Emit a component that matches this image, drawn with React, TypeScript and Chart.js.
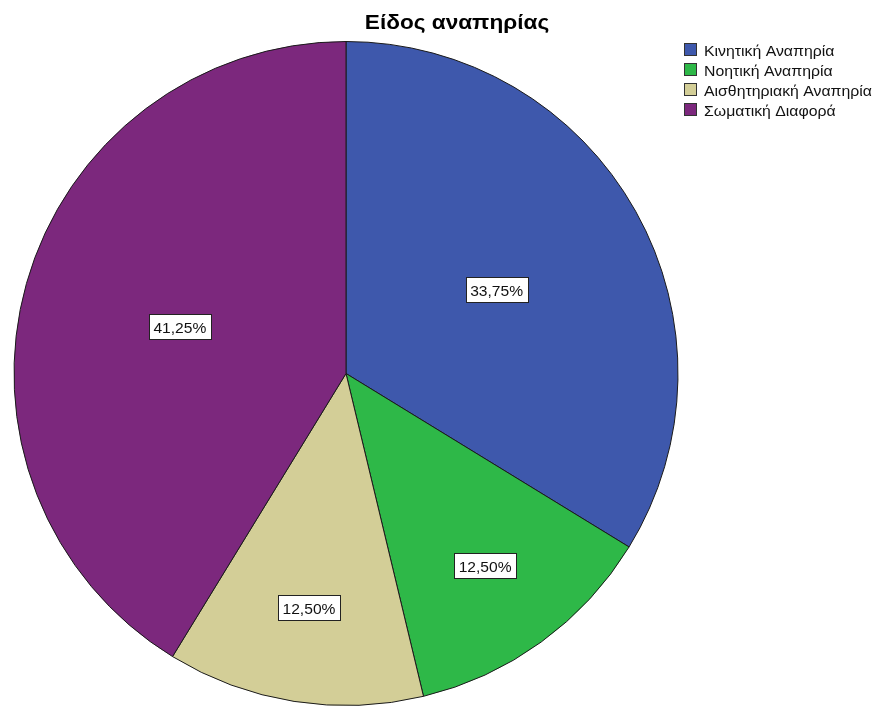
import React, { useEffect, useRef } from "react";
import { Chart, registerables } from "chart.js";

Chart.register(...registerables);

const chartTitle = "Είδος αναπηρίας";
const categories = ["Κινητική Αναπηρία", "Νοητική Αναπηρία", "Αισθητηριακή Αναπηρία", "Σωματική Διαφορά"];
const percentages = [33.75, 12.5, 12.5, 41.25];
const sliceColors = ["#3E58AC", "#2EB848", "#D3CE97", "#7C287D"];

const FONT = "'Liberation Sans', Arial, sans-serif";

function stretchedText(ctx: CanvasRenderingContext2D, txt: string, x: number, y: number, sx: number, align: "left" | "center") {
  ctx.save();
  ctx.translate(x, y);
  ctx.scale(sx, 1);
  ctx.textAlign = align;
  ctx.fillText(txt, 0, 0);
  ctx.restore();
}

const overlayPlugin = {
  id: "overlay",
  afterDraw(chart: any) {
    const ctx = chart.ctx as CanvasRenderingContext2D;
    ctx.save();
    ctx.textBaseline = "alphabetic";
    // title
    ctx.font = `bold 20px ${FONT}`;
    ctx.fillStyle = "#000";
    stretchedText(ctx, chartTitle, 457, 29, 1.13, "center");

    // legend
    const labels = chart.data.labels as string[];
    const colors = chart.data.datasets[0].backgroundColor as string[];
    ctx.font = `14px ${FONT}`;
    labels.forEach((lab, i) => {
      const y = 50 + i * 20;
      ctx.fillStyle = colors[i];
      ctx.fillRect(684.5, y - 6.5, 12, 12);
      ctx.strokeStyle = "#333";
      ctx.lineWidth = 1;
      ctx.strokeRect(684.5, y - 6.5, 12, 12);
      ctx.fillStyle = "#111";
      stretchedText(ctx, lab, 704, y + 5.5, 1.13, "left");
    });

    // slice labels
    const meta = chart.getDatasetMeta(0);
    const data = chart.data.datasets[0].data as number[];
    const total = data.reduce((a, b) => a + b, 0);
    ctx.font = `15px ${FONT}`;
    meta.data.forEach((arc: any, i: number) => {
      const share = data[i] / total;
      const mid = (arc.startAngle + arc.endAngle) / 2;
      const f = share > 0.25 ? 0.52 : 0.713;
      const x = arc.x + Math.cos(mid) * arc.outerRadius * f;
      const y = arc.y + Math.sin(mid) * arc.outerRadius * f;
      const txt = data[i].toFixed(2).replace(".", ",") + "%";
      const sx = 1.04;
      const tw = ctx.measureText(txt).width * sx;
      const w = Math.round(tw + 9);
      const h = 25;
      const bx = Math.round(x - w / 2) + 0.5;
      const by = Math.round(y - h / 2) + 0.5;
      ctx.fillStyle = "#fff";
      ctx.fillRect(bx, by, w, h);
      ctx.strokeStyle = "#222";
      ctx.lineWidth = 1;
      ctx.strokeRect(bx, by, w, h);
      ctx.fillStyle = "#111";
      stretchedText(ctx, txt, x, y + 6.5, sx, "center");
    });
    ctx.restore();
  },
};

export default function App() {
  const ref = useRef<HTMLCanvasElement | null>(null);
  useEffect(() => {
    if (!ref.current) return;
    const chart = new Chart(ref.current, {
      type: "pie",
      data: {
        labels: categories,
        datasets: [
          {
            data: percentages,
            backgroundColor: sliceColors,
            borderColor: "#1a1a1a",
            borderWidth: 1,
          },
        ],
      },
      options: {
        responsive: false,
        animation: false,
        devicePixelRatio: 1,
        layout: { padding: { top: 41, left: 12, right: 197, bottom: 0 } },
        plugins: {
          legend: { display: false },
          title: { display: false },
          tooltip: { enabled: false },
        },
      },
      plugins: [overlayPlugin],
    });
    return () => chart.destroy();
  }, []);
  return (
    <canvas
      ref={ref}
      width={877}
      height={706}
      style={{ position: "absolute", left: 0, top: 0, width: 877, height: 706, background: "#fff" }}
    />
  );
}
